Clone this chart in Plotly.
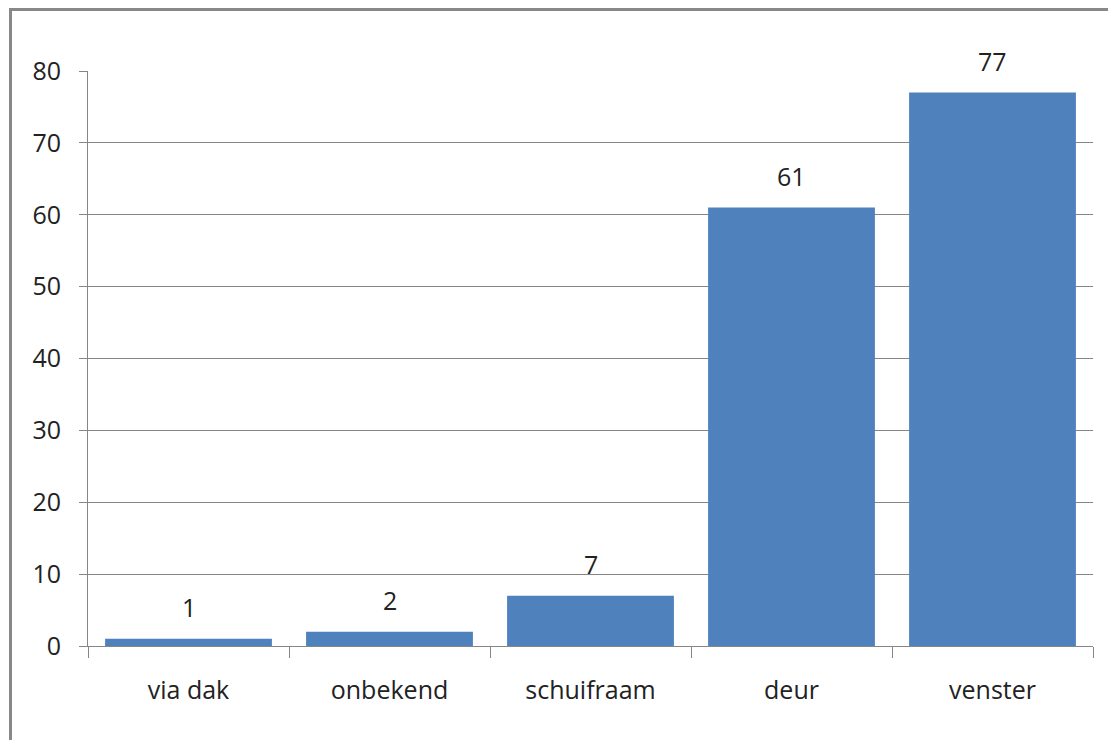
import plotly.graph_objects as go

categories = ["via dak", "onbekend", "schuifraam", "deur", "venster"]
values = [1, 2, 7, 61, 77]
y_ticks = [0, 10, 20, 30, 40, 50, 60, 70, 80]

# page body has an 8px margin; figure sized to fit
W, H = 1108, 732
L, R, T, B = 80, 23, 63, 94
pw, ph = W - L - R, H - T - B

FONT = dict(family="Open Sans", size=25, color="#222")

fig = go.Figure()
fig.add_trace(go.Bar(
    x=categories, y=values,
    marker=dict(color="#4F81BD", line=dict(width=0)),
    width=0.83,
    hoverinfo="x+y",
))

for c, v in zip(categories, values):
    fig.add_annotation(x=c, y=v, text=str(v), showarrow=False,
                       yanchor="bottom", yshift=13, font=FONT)

# outer frame
fig.add_shape(type="rect", xref="paper", yref="paper",
              x0=(2.5 - L) / pw, x1=(W + 40 - L) / pw,
              y0=-(B + 40) / ph, y1=1 + (T - 1.5) / ph,
              line=dict(color="#888888", width=3), layer="below")

fig.update_layout(
    width=W, height=H,
    margin=dict(l=L, r=R, t=T, b=B),
    paper_bgcolor="white", plot_bgcolor="white",
    showlegend=False,
    font=FONT,
    xaxis=dict(
        type="category",
        showline=True, linecolor="#868686", linewidth=1,
        ticks="outside", tickson="boundaries", ticklen=11, tickcolor="#868686",
        ticklabelstandoff=22,
        showgrid=False,
        tickfont=FONT,
    ),
    yaxis=dict(
        range=[0, 80], tickvals=y_ticks,
        showline=True, linecolor="#868686", linewidth=1,
        ticks="outside", ticklen=8, tickcolor="#868686",
        showgrid=True, gridcolor="#868686", gridwidth=1,
        zeroline=False,
        ticklabelstandoff=13,
        tickfont=FONT,
    ),
)

fig.write_html("out.html")
